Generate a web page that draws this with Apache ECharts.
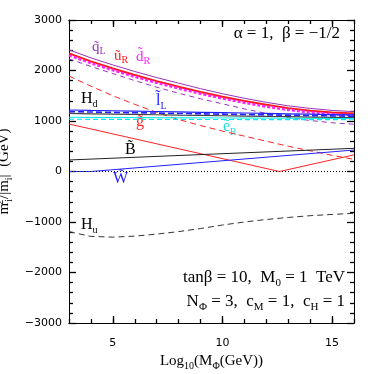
<!DOCTYPE html>
<html>
<head>
<meta charset="utf-8">
<script src="https://cdn.jsdelivr.net/npm/echarts@6/dist/echarts.min.js"></script>
<style>
  html, body { margin: 0; padding: 0; background: #fff; }
  #chart { width: 374px; height: 374px; }
</style>
</head>
<body>
<div id="chart"></div>
<script>
// Log10(M_phi / GeV), read at every integer step
const mPhi = [3, 4, 5, 6, 7, 8, 9, 10, 11, 12, 13, 14, 15, 16];

// squarks, sleptons, higgs (GeV)
const qL      = [2410, 2250, 2110, 1980, 1860, 1750, 1640, 1540, 1450, 1370, 1300, 1250, 1210, 1185];
const uR      = [2340, 2180, 2040, 1910, 1790, 1680, 1575, 1480, 1395, 1320, 1255, 1205, 1170, 1150];
const dR      = [2300, 2145, 2005, 1875, 1755, 1645, 1540, 1445, 1360, 1285, 1220, 1170, 1135, 1115];
const qDash   = [2230, 2080, 1940, 1800, 1670, 1550, 1440, 1340, 1240, 1150, 1070, 1010, 965, 935];
const redDash = [1890, 1690, 1500, 1330, 1170, 1030, 910, 800, 700, 600, 500, 410, 320, 240];
const lL      = [1218, 1210, 1203, 1195, 1188, 1180, 1172, 1165, 1158, 1150, 1143, 1136, 1128, 1120];
const lDash   = [1185, 1178, 1171, 1164, 1157, 1150, 1143, 1136, 1129, 1122, 1115, 1108, 1101, 1095];
const Hd      = [1150, 1143, 1137, 1130, 1124, 1117, 1111, 1104, 1098, 1091, 1085, 1078, 1072, 1065];
const eR      = [1073, 1071, 1069, 1067, 1066, 1064, 1062, 1060, 1058, 1057, 1055, 1053, 1051, 1050];
const eDash   = [1035, 1034, 1033, 1033, 1032, 1031, 1030, 1030, 1029, 1028, 1027, 1027, 1026, 1025];
const Hu      = [-1192, -1285, -1300, -1280, -1240, -1190, -1130, -1060, -1000, -950, -910, -875, -850, -828];

// gauginos have kinks, so they get their own x points
const gluinoX = [3, 12.6, 16];
const gluino  = [940, 0, 330];
const winoX   = [3, 4, 16];
const wino    = [0, 0, 425];
const binoX   = [3, 16];
const bino    = [228, 459];

const xMajor = [5, 10, 15];

const serif = '"Liberation Serif", "DejaVu Serif", serif';
const sans = '"DejaVu Sans", sans-serif';

function pairs(xs, ys) {
  return xs.map((x, i) => [x, ys[i]]);
}

function line(name, xs, ys, color, width, dash) {
  return {
    name: name,
    type: 'line',
    data: pairs(xs, ys),
    showSymbol: false,
    symbol: 'none',
    silent: true,
    animation: false,
    lineStyle: { color: color, width: width, type: dash || 'solid' }
  };
}

function rich(size, sub) {
  return {
    t: { fontFamily: serif, fontSize: size, lineHeight: size + 4 },
    sb: { fontFamily: serif, fontSize: sub, verticalAlign: 'bottom' },
    sp: { fontFamily: serif, fontSize: sub, verticalAlign: 'top', width: 1 }
  };
}

function label(text, x, y, color, align, size) {
  size = size || 15;
  return {
    type: 'text',
    x: x,
    y: y,
    silent: true,
    style: {
      text: text,
      fill: color,
      fontFamily: serif,
      fontSize: size,
      align: align || 'left',
      verticalAlign: 'middle',
      rich: rich(size, Math.round(size * 0.65))
    }
  };
}

function xAx(position, len, custom, extra) {
  var ax = {
    type: 'value', min: 3, max: 16, position: position,
    splitLine: { show: false },
    axisLine: { show: true, onZero: false, lineStyle: { color: '#000' } },
    axisTick: { show: true, inside: true, length: len, lineStyle: { color: '#000', width: 1.3 } },
    axisLabel: { show: false }
  };
  if (custom) ax.axisTick.customValues = custom;
  else ax.interval = 1;
  return Object.assign(ax, extra || {});
}

function yAx(position, extra) {
  return Object.assign({
    type: 'value', min: -3000, max: 3000, interval: 1000, position: position,
    splitLine: { show: false },
    axisLine: { show: true, onZero: false, lineStyle: { color: '#000' } },
    axisTick: { show: true, inside: true, length: 7, lineStyle: { color: '#000', width: 1.3 } },
    minorTick: { show: true, splitNumber: 5, length: 4, lineStyle: { color: '#000', width: 1.3 } },
    axisLabel: { show: false }
  }, extra || {});
}

var chart = echarts.init(document.getElementById('chart'));

var zeroSeries = line('W', winoX, wino, '#2222ff', 1);
zeroSeries.markLine = {
  symbol: 'none', silent: true, animation: false,
  label: { show: false },
  lineStyle: { color: '#000', width: 1.2, type: [1, 2] },
  data: [{ yAxis: 0 }]
};

chart.setOption({
  animation: false,
  grid: { left: 69, right: 20, top: 20, bottom: 51, outerBoundsMode: 'none' },
  xAxis: [
    xAx('bottom', 4),
    xAx('bottom', 7, xMajor, {
      axisLabel: { show: true, customValues: xMajor, margin: 15, fontFamily: sans, fontSize: 11, color: '#000' },
      name: '{t|Log}{sb|10}{t|(M}{sb|Φ}{t|(GeV))}',
      nameLocation: 'middle',
      nameGap: 26,
      nameTextStyle: { color: '#000', rich: rich(15, 10) }
    }),
    xAx('top', 4),
    xAx('top', 7, xMajor)
  ],
  yAxis: [
    yAx('left', {
      axisLabel: {
        show: true, margin: 7, fontFamily: sans, fontSize: 11, color: '#000',
        formatter: v => String(v).replace('-', '\u2212')
      },
      name: '{t|m}{sp|2}{sb|i}{t|/|m}{sb|i}{t||  (GeV)}',
      nameLocation: 'middle',
      nameGap: 51,
      nameTextStyle: { color: '#000', rich: rich(15, 10) }
    }),
    yAx('right')
  ],
  series: [
    line('qL', mPhi, qL, '#9933bb', 1),
    line('qDash', mPhi, qDash, '#9933bb', 1, [5, 4]),
    line('uR', mPhi, uR, '#ff1a1a', 2),
    line('dR', mPhi, dR, '#ff22ff', 2.5, [3, 2]),
    line('redDash', mPhi, redDash, '#ff2222', 1, [6, 4]),
    line('Hd', mPhi, Hd, '#444', 1.2),
    line('eR', mPhi, eR, '#00e8e8', 1),
    line('eDash', mPhi, eDash, '#00e8e8', 1.2, [5, 3]),
    line('lL', mPhi, lL, '#2222ff', 1.2),
    line('lDash', mPhi, lDash, '#2222ff', 1.6, [6, 3]),
    line('gluino', gluinoX, gluino, '#ff2222', 1),
    line('B', binoX, bino, '#222', 1),
    zeroSeries,
    line('Hu', mPhi, Hu, '#333', 1, [6, 4])
  ],
  graphic: [
    label('{t|q\u0303}{sb|L}', 92, 47, '#9933bb'),
    label('{t|\u0169}{sb|R}', 114, 56, '#ff1a1a'),
    label('{t|d\u0303}{sb|R}', 136, 57, '#ff22ff'),
    label('{t|H}{sb|d}', 81, 99, '#000', 'left', 16),
    label('{t|l\u0303}{sb|L}', 156, 101, '#2222ff', 'left', 16),
    label('{t|g\u0303}', 136, 122, '#ff2222', 'left', 16),
    label('{t|\u1ebd}{sb|R}', 223, 127, '#22dddd', 'left', 16),
    label('{t|B\u0303}', 125, 150, '#000', 'left', 16),
    label('{t|W\u0303}', 113, 179, '#2222ff', 'left', 16),
    label('{t|H}{sb|u}', 81, 225, '#000', 'left', 16),
    label('{t|\u03b1 = 1,  \u03b2 = \u22121/2}', 340, 34, '#000', 'right', 17),
    label('{t|tan\u03b2 = 10,  M}{sb|0}{t| = 1  TeV}', 345, 278, '#000', 'right', 17),
    label('{t|N}{sb|\u03a6}{t| = 3,  c}{sb|M}{t| = 1,  c}{sb|H}{t| = 1}', 345, 302, '#000', 'right', 17)
  ]
});
</script>
</body>
</html>
